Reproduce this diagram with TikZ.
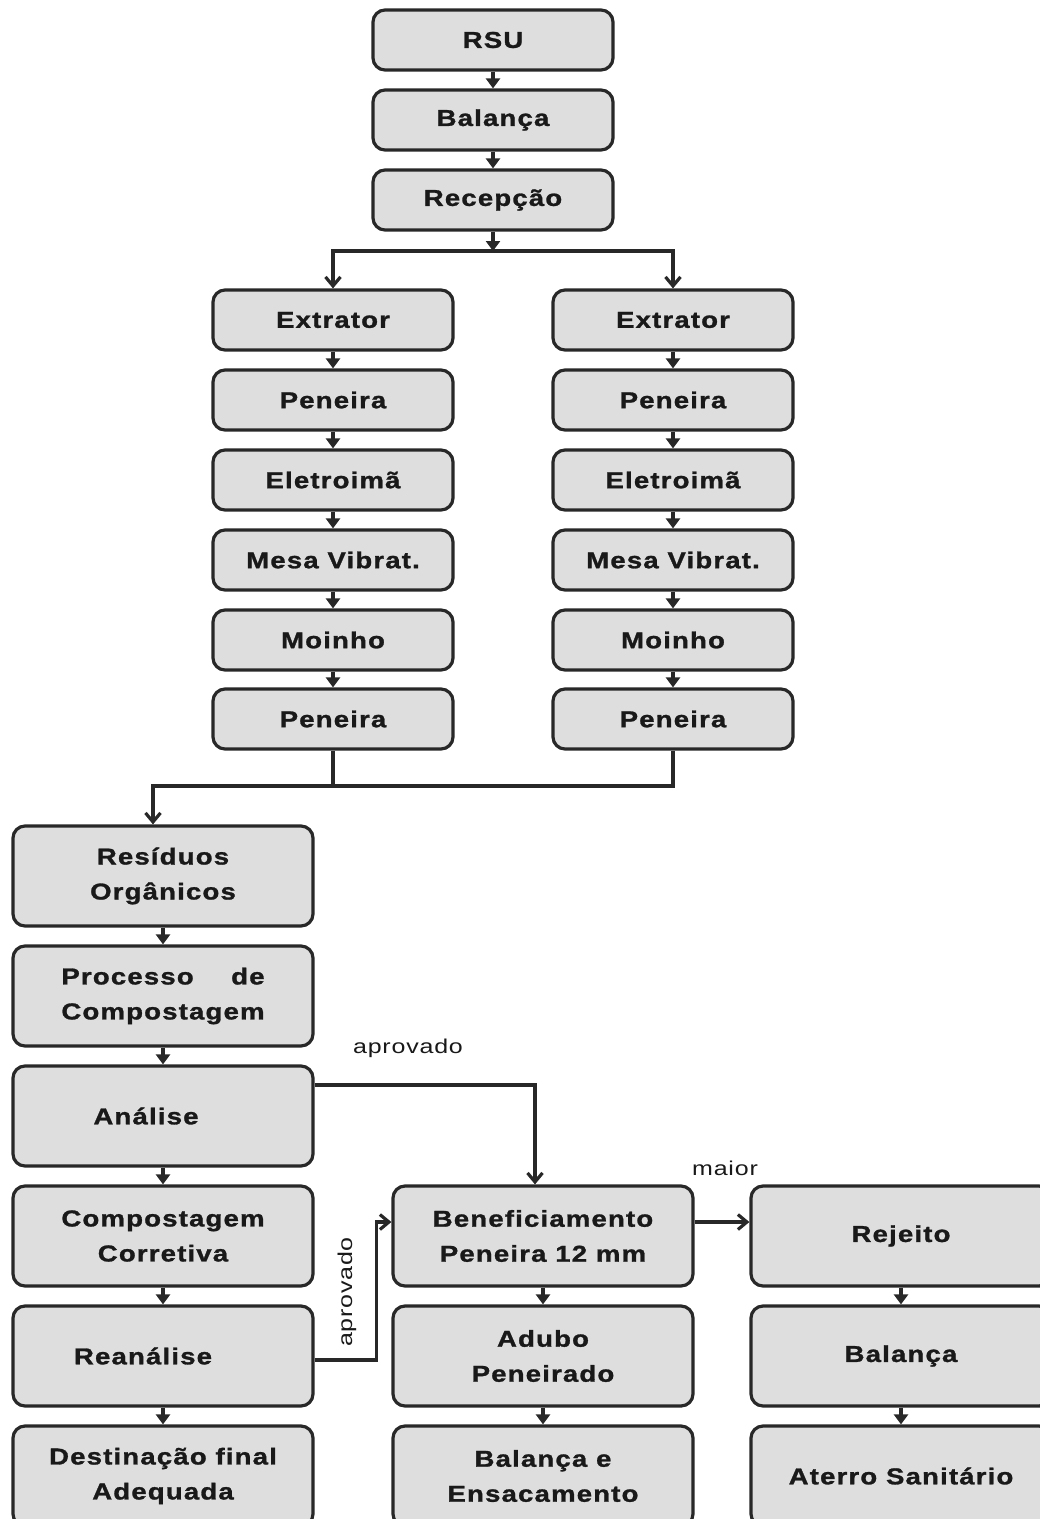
\documentclass[tikz,border=0pt]{standalone}
\usepackage{fontspec}
\setmainfont{Liberation Sans}
\newfontfamily\boxfontfam[FakeStretch=1.2,LetterSpace=5,FakeBold=1.2]{Liberation Sans Bold}
\newfontfamily\labfontfam[FakeStretch=1.25,LetterSpace=4]{Liberation Sans}
\usetikzlibrary{arrows.meta}
\definecolor{boxfill}{RGB}{222,222,222}
\definecolor{boxline}{RGB}{40,40,40}
\definecolor{txt}{RGB}{25,25,25}
\begin{document}
\begin{tikzpicture}[x=1pt,y=-1pt,
  box/.style={draw=boxline, fill=boxfill, rounded corners=12pt, line width=3.2pt,
    minimum width=240pt, minimum height=60pt, inner sep=0pt, align=center,
    text=txt, font=\boxfontfam\fontsize{23}{35}\selectfont},
  tall/.style={box, minimum width=300pt, minimum height=100pt},
  link/.style={draw=boxline, line width=3.5pt, -{Triangle[width=14pt,length=10pt]}},
  flow/.style={draw=boxline, line width=3.2pt, -{Straight Barb[width=15pt,length=9pt]}},
  plain/.style={draw=boxline, line width=3.2pt},
  lab/.style={text=txt, font=\labfontfam\fontsize{20}{24}\selectfont, inner sep=0pt}]
\useasboundingbox (0,0) rectangle (1040,1519);
\clip (0,0) rectangle (1040,1519);
% top
\node[box] (rsu) at (493,40) {RSU};
\node[box] (bal) at (493,120) {Balança};
\node[box] (rec) at (493,200) {Recepção};
% left line
\node[box] (ex1) at (333,320) {Extrator};
\node[box] (pa1) at (333,400) {Peneira};
\node[box] (el1) at (333,480) {Eletroimã};
\node[box] (me1) at (333,560) {Mesa Vibrat.};
\node[box] (mo1) at (333,640) {Moinho};
\node[box] (pb1) at (333,719) {Peneira};
% right line
\node[box] (ex2) at (673,320) {Extrator};
\node[box] (pa2) at (673,400) {Peneira};
\node[box] (el2) at (673,480) {Eletroimã};
\node[box] (me2) at (673,560) {Mesa Vibrat.};
\node[box] (mo2) at (673,640) {Moinho};
\node[box] (pb2) at (673,719) {Peneira};
% lower left column
\node[tall] (res) at (163,876) {Resíduos\\Orgânicos};
\node[tall] (pro) at (163,996) {\setbox0\hbox{Compostagem}\hbox to\wd0{Processo\hfill de}\\Compostagem};
\node[tall] (ana) at (163,1116) {Análise\hspace{34pt}};
\node[tall] (cor) at (163,1236) {Compostagem\\Corretiva};
\node[tall] (rea) at (163,1356) {Reanálise\hspace{40pt}};
\node[tall] (des) at (163,1476) {Destinação final\hspace{10pt}\\Adequada};
% middle column
\node[tall] (ben) at (543,1236) {Beneficiamento\\Peneira 12 mm};
\node[tall] (adu) at (543,1356) {Adubo\\Peneirado};
\node[tall] (ens) at (543,1476) {Balança e\\Ensacamento};
% right column
\node[tall] (rej) at (901,1236) {Rejeito};
\node[tall] (bal2) at (901,1356) {Balança};
\node[tall] (ate) at (901,1476) {Aterro Sanitário};
% labels
\node[lab] (l1) at (408,1048) {aprovado};
\node[lab] (l2) at (725,1168) {maior};
\node[lab, rotate=90] (l3) at (347,1292) {aprovado};
% stacked links
\draw[link] (rsu) -- (bal);
\draw[link] (bal) -- (rec);
\foreach \a/\b in {ex1/pa1,pa1/el1,el1/me1,me1/mo1,mo1/pb1,ex2/pa2,pa2/el2,el2/me2,me2/mo2,mo2/pb2,
  res/pro,pro/ana,ana/cor,cor/rea,rea/des,ben/adu,adu/ens,rej/bal2,bal2/ate}
  \draw[link] (\a) -- (\b);
% split
\coordinate (sp) at (493,251);
\draw[link] (rec) -- (sp);
\draw[flow] (sp) -| (ex1.north);
\draw[flow] (sp) -| (ex2.north);
% merge
\coordinate (mg) at (333,786);
\draw[plain] (pb2.south) |- (mg);
\draw[plain] (pb1.south) -- (mg);
\draw[flow] (mg) -| ([xshift=-10pt]res.north);
% approvals
\draw[flow] ([yshift=31pt]ana.east) -| ([xshift=-8pt]ben.north);
\draw[flow] ([yshift=-4pt]rea.east) -- ++(62,0) |- ([yshift=14pt]ben.west);
\draw[flow] ([yshift=14pt]ben.east) -- ([yshift=14pt]rej.west);
\end{tikzpicture}
\end{document}
